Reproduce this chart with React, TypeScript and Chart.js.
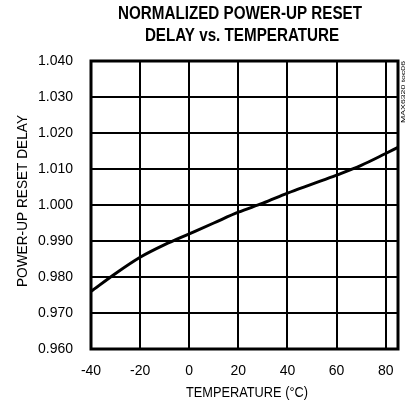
import React, { useEffect, useRef } from "react";
import { Chart, registerables } from "chart.js";

Chart.register(...registerables);

const temperatures = [-40, -30, -20, -10, 0, 10, 20, 30, 40, 50, 60, 70, 80, 85];
const delays = [0.976, 0.981, 0.9855, 0.989, 0.992, 0.995, 0.998, 1.0005, 1.0033, 1.0058, 1.0083, 1.011, 1.0143, 1.016];
const xTicks = [-40, -20, 0, 20, 40, 60, 80];
const yTicks = [0.96, 0.97, 0.98, 0.99, 1.0, 1.01, 1.02, 1.03, 1.04];
const titleLines = ["NORMALIZED POWER-UP RESET", "DELAY vs. TEMPERATURE"];
const sideNote = "MAX6320 toc06";
const xTitle = "TEMPERATURE (°C)";
const yTitle = "POWER-UP RESET DELAY";

const W = 409;
const H = 407;

function drawSqueezed(ctx: any, text: string, x: number, y: number, width: number) {
  const w = ctx.measureText(text).width;
  ctx.save();
  ctx.translate(x, y);
  ctx.scale(width / w, 1);
  ctx.fillText(text, 0, 0);
  ctx.restore();
}

const decorPlugin = {
  id: "decor",
  afterDraw(chart: any) {
    const ctx = chart.ctx;
    const area = chart.chartArea;
    ctx.save();
    ctx.fillStyle = "#000";
    ctx.textAlign = "center";
    ctx.textBaseline = "middle";
    // title, condensed
    ctx.font = "900 18px 'Liberation Sans', sans-serif";
    const w0 = ctx.measureText(titleLines[0]).width;
    const sx = 244 / w0;
    drawSqueezed(ctx, titleLines[0], 240, 14, 244);
    drawSqueezed(ctx, titleLines[1], 242, 36.5, ctx.measureText(titleLines[1]).width * sx);
    // axis titles, condensed
    ctx.font = "15px 'Liberation Sans', sans-serif";
    drawSqueezed(ctx, xTitle, 247, 393, 122);
    ctx.save();
    ctx.translate(23, 201);
    ctx.rotate(-Math.PI / 2);
    drawSqueezed(ctx, yTitle, 0, 0, 172);
    ctx.restore();
    // side note
    ctx.translate(403, 92);
    ctx.rotate(-Math.PI / 2);
    ctx.font = "6px 'Liberation Sans', sans-serif";
    drawSqueezed(ctx, sideNote, 0, 0, 62);
    ctx.restore();
    // thick border
    ctx.save();
    ctx.strokeStyle = "#000";
    ctx.lineWidth = 3;
    ctx.strokeRect(area.left, area.top, area.right - area.left, area.bottom - area.top);
    ctx.restore();
  },
};

export default function App() {
  const ref = useRef<HTMLCanvasElement>(null);
  useEffect(() => {
    if (!ref.current) return;
    const chart = new Chart(ref.current, {
      type: "line",
      data: {
        datasets: [
          {
            data: temperatures.map((t, i) => ({ x: t, y: delays[i] })),
            borderColor: "#000",
            borderWidth: 3,
            pointRadius: 0,
            tension: 0.4,
            cubicInterpolationMode: "monotone",
          },
        ],
      },
      options: {
        responsive: false,
        animation: false,
        devicePixelRatio: 1,
        layout: { padding: { top: 61, right: 11, left: 8, bottom: 8 } },
        plugins: { legend: { display: false }, tooltip: { enabled: false }, title: { display: false } },
        scales: {
          x: {
            type: "linear",
            min: -40,
            max: 85,
            afterBuildTicks: (s: any) => {
              s.ticks = xTicks.map((v) => ({ value: v }));
            },
            afterFit: (s: any) => {
              s.height = H - 349 - 8;
            },
            grid: { color: "#000", lineWidth: 2, drawTicks: false },
            border: { display: false },
            ticks: {
              color: "#000",
              padding: 14,
              font: { family: "'Liberation Sans', sans-serif", size: 14 },
              callback: (v: any) => String(v),
            },
          },
          y: {
            type: "linear",
            min: 0.96,
            max: 1.04,
            afterBuildTicks: (s: any) => {
              s.ticks = yTicks.map((v) => ({ value: v }));
            },
            afterFit: (s: any) => {
              s.width = 91 - 8;
            },
            grid: { color: "#000", lineWidth: 2, drawTicks: false },
            border: { display: false },
            ticks: {
              color: "#000",
              padding: 18,
              font: { family: "'Liberation Sans', sans-serif", size: 14 },
              callback: (v: any) => Number(v).toFixed(3),
            },
          },
        },
      },
      plugins: [decorPlugin],
    } as any);
    return () => chart.destroy();
  }, []);
  return (
    <div style={{ position: "fixed", left: 0, top: 0, width: W, height: H, background: "#fff" }}>
      <canvas ref={ref} width={W} height={H} style={{ width: W, height: H, display: "block" }} />
    </div>
  );
}
